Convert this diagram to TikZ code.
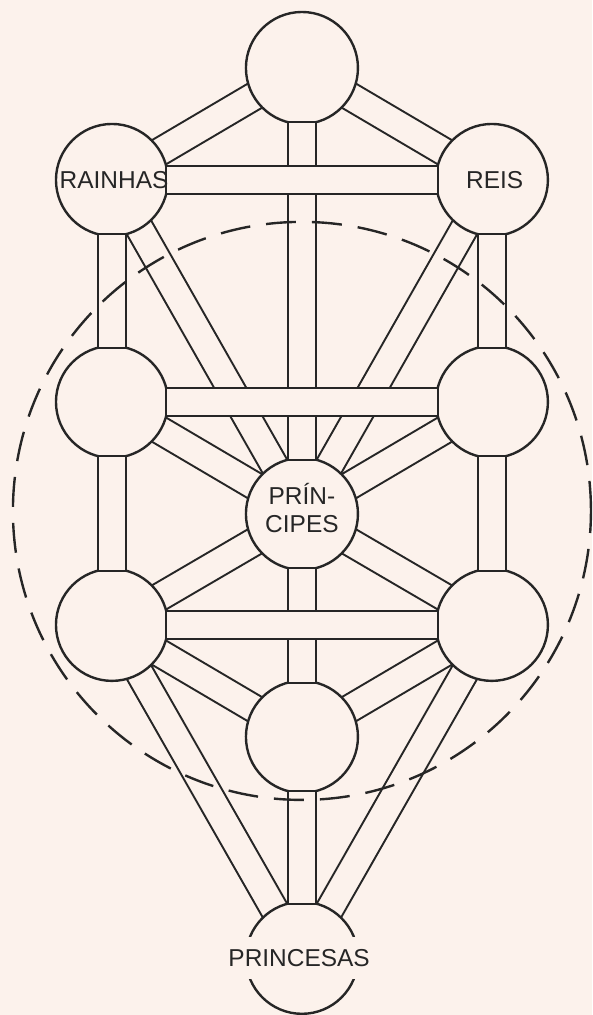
\documentclass[tikz,border=0pt]{standalone}
\usepackage{fontspec}
\setmainfont{Liberation Sans}
\usetikzlibrary{calc}
\definecolor{papel}{HTML}{FCF2EC}
\definecolor{tinta}{HTML}{262626}

\begin{document}
\begin{tikzpicture}[
  x=0.025cm, y=-0.025cm,
  sef/.style={circle, draw=tinta, line width=1.7pt, fill=papel, minimum size=2.8cm, inner sep=0},
  canal/.style={draw=tinta, line width=1.35pt, fill=papel, line join=miter},
  rot/.style={font=\fontsize{17.4}{20}\selectfont, text=tinta, align=center, inner sep=0}
]
% fundo da pagina
\fill[papel] (0,0) rectangle (592,1015);

% as dez esferas (so as posicoes; desenhadas depois das diagonais)
\coordinate (topo) at (302,68);
\coordinate (rainhas) at (112,180);
\coordinate (reis) at (492,180);
\coordinate (esq) at (112,402);
\coordinate (dir) at (492,402);
\coordinate (principes) at (302,514);
\coordinate (esqb) at (112,625);
\coordinate (dirb) at (492,625);
\coordinate (base) at (302,737);
\coordinate (princesas) at (302,958);

% caminhos diagonais
\foreach \a/\b in {topo/rainhas,topo/reis,rainhas/principes,reis/principes,
  esq/principes,dir/principes,principes/esqb,principes/dirb,esqb/base,dirb/base,
  esqb/princesas,dirb/princesas}{
  \draw[canal] ($(\a)!1.355cm!(\b)!0.35cm!90:(\b)$) -- ($(\b)!1.355cm!(\a)!0.35cm!-90:(\a)$)
    -- ($(\b)!1.355cm!(\a)!0.35cm!90:(\a)$) -- ($(\a)!1.355cm!(\b)!0.35cm!-90:(\b)$) -- cycle;
}

\foreach \s in {topo,rainhas,reis,esq,dir,principes,esqb,dirb,base,princesas}
  \node[sef] (c\s) at (\s) {};

% caminhos verticais
\foreach \a/\b in {topo/principes,rainhas/esq,reis/dir,esq/esqb,dir/dirb,
  principes/base,base/princesas}{
  \draw[canal] ($(\a)!1.355cm!(\b)!0.35cm!90:(\b)$) -- ($(\b)!1.355cm!(\a)!0.35cm!-90:(\a)$)
    -- ($(\b)!1.355cm!(\a)!0.35cm!90:(\a)$) -- ($(\a)!1.355cm!(\b)!0.35cm!-90:(\b)$) -- cycle;
}
% caminhos horizontais, por cima dos outros
\foreach \a/\b in {rainhas/reis,esq/dir,esqb/dirb}{
  \draw[canal] ($(\a)!1.355cm!(\b)!0.35cm!90:(\b)$) -- ($(\b)!1.355cm!(\a)!0.35cm!-90:(\a)$)
    -- ($(\b)!1.355cm!(\a)!0.35cm!90:(\a)$) -- ($(\a)!1.355cm!(\b)!0.35cm!-90:(\b)$) -- cycle;
}

% circulo tracejado
\draw[tinta, line width=1.7pt, dash pattern=on 0.75cm off 0.4cm] (302,511) circle[radius=7.225cm];

% nomes
\node[rot] (trainhas) at ([xshift=1.5pt]crainhas) {RAINHAS};
\node[rot] (treis) at ([xshift=2pt]creis) {REIS};
\node[rot] (tprincipes) at ([yshift=4pt]cprincipes) {PRÍN-\\CIPES};
\node[rot, fill=papel, inner xsep=2pt, inner ysep=9pt] (tprincesas) at ([xshift=-2pt]cprincesas) {PRINCESAS};
\end{tikzpicture}
\end{document}
